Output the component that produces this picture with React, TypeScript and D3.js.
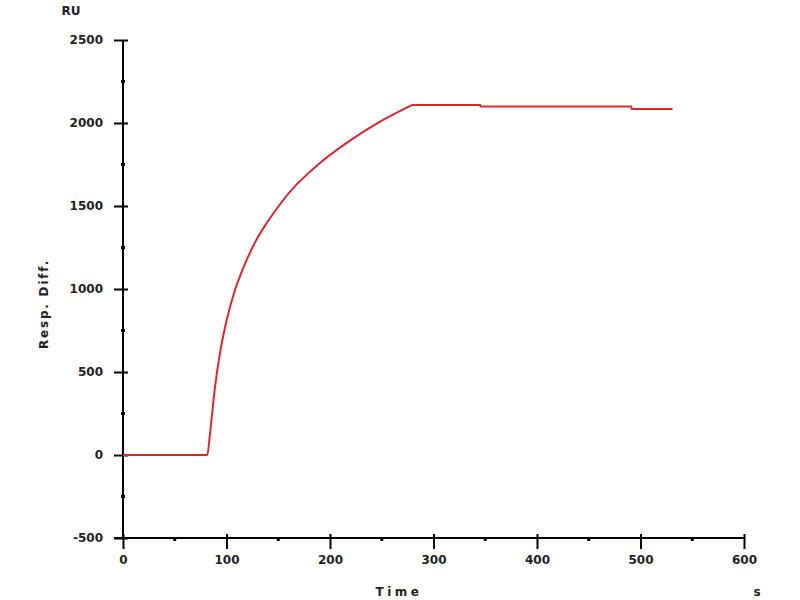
import { useEffect, useRef } from "react"
import * as d3 from "d3"

// sensorgram
// association phase (smooth)
const riseT = [0, 81, 81.4, 84.1, 88.9, 93.7, 100.2, 108.2, 116.2, 129.2, 137.2, 145.2, 166.2, 171, 190.3, 216.1, 248.3, 279]
const riseRU = [0, 0, 0, 132, 410, 614, 813, 994, 1127, 1300, 1382, 1455, 1620, 1650, 1759, 1880, 2008, 2108]
// plateau with small steps
const flatT = [279, 345, 345.5, 491, 491.5, 531]
const flatRU = [2108, 2108, 2100, 2100, 2085, 2085]

const xMajor = [0, 100, 200, 300, 400, 500, 600]
const xMinor = [50, 150, 250, 350, 450, 550]
const yMajor = [-500, 0, 500, 1000, 1500, 2000, 2500]
const yMinor = [-250, 250, 750, 1250, 1750, 2250]

const FONT = "'DejaVu Sans', Verdana, sans-serif"

const App = () => {
  const ref = useRef<SVGSVGElement>(null)

  useEffect(() => {
    const svg = d3.select(ref.current)
    svg.selectAll("*").remove()

    const x = d3.scaleLinear().domain([0, 600]).range([123, 744])
    const y = d3.scaleLinear().domain([-500, 2500]).range([538, 40])
    const fmt = (d: any) => String(d)

    const g = svg.append("g")

    // y axis
    const yAxis = g.append("g").attr("transform", `translate(${x(0)},0)`)
    yAxis
      .call(d3.axisLeft(y).tickValues(yMajor).tickFormat(fmt).tickSize(9).tickSizeOuter(0).tickPadding(11) as any)
      .call((s) => s.select(".domain").attr("stroke-width", 2).attr("d", `M0,${y(-500)}V${y(2500)}`))
    yAxis.selectAll(".tick line").attr("stroke-width", 2).attr("x2", -9).attr("x1", 5)
    yAxis
      .selectAll(".tick text")
      .attr("font-family", FONT)
      .attr("font-weight", "bold")
      .attr("font-size", 12)
      .attr("fill", "#222")
    yAxis
      .selectAll(".minor")
      .data(yMinor)
      .enter()
      .append("line")
      .attr("x1", -2)
      .attr("x2", 2)
      .attr("y1", (d) => y(d))
      .attr("y2", (d) => y(d))
      .attr("stroke", "#000")
      .attr("stroke-width", 3)

    // x axis
    const xAxis = g.append("g").attr("transform", `translate(0,${y(-500)})`)
    xAxis
      .call(d3.axisBottom(x).tickValues(xMajor).tickFormat(fmt).tickSize(11).tickSizeOuter(0).tickPadding(6) as any)
      .call((s) => s.select(".domain").attr("stroke-width", 2).attr("d", `M${x(0) - 9},0H${x(600)}`))
    xAxis.selectAll(".tick line").attr("stroke-width", 2).attr("y1", -4).attr("y2", 11)
    xAxis
      .selectAll(".tick text")
      .attr("font-family", FONT)
      .attr("font-weight", "bold")
      .attr("font-size", 12)
      .attr("fill", "#222")
    xAxis
      .selectAll(".minor")
      .data(xMinor)
      .enter()
      .append("line")
      .attr("x1", (d) => x(d))
      .attr("x2", (d) => x(d))
      .attr("y1", -1)
      .attr("y2", 3)
      .attr("stroke", "#000")
      .attr("stroke-width", 3)

    // curve
    const mk = (ts: number[], vs: number[]) => ts.map((t, i) => [t, vs[i]] as [number, number])
    const smooth = d3
      .line<[number, number]>()
      .x((d) => x(d[0]))
      .y((d) => y(d[1]))
      .curve(d3.curveMonotoneX)
    const straight = d3
      .line<[number, number]>()
      .x((d) => x(d[0]))
      .y((d) => y(d[1]))
    g.append("path")
      .datum(mk(riseT, riseRU))
      .attr("d", smooth)
      .attr("fill", "none")
      .attr("stroke", "#e0262b")
      .attr("stroke-width", 2)
    g.append("path")
      .datum(mk(flatT, flatRU))
      .attr("d", straight)
      .attr("fill", "none")
      .attr("stroke", "#e0262b")
      .attr("stroke-width", 2)

    // labels
    const lab = (tx: number, ty: number, s: string, rot = 0, ls = 0) =>
      g
        .append("text")
        .attr("transform", `translate(${tx},${ty}) rotate(${rot})`)
        .attr("text-anchor", "middle")
        .attr("font-family", FONT)
        .attr("font-weight", "bold")
        .attr("font-size", 12)
        .attr("letter-spacing", ls)
        .attr("fill", "#222")
        .text(s)
    lab(71, 15, "RU")
    lab(48, 304, "Resp. Diff.", -90, 1.8)
    lab(399, 596, "Time", 0, 3.5)
    lab(757, 596, "s")
  }, [])

  return (
    <svg
      ref={ref}
      width={800}
      height={600}
      style={{ position: "absolute", left: 0, top: 0, background: "#fff" }}
    />
  )
}

export default App
